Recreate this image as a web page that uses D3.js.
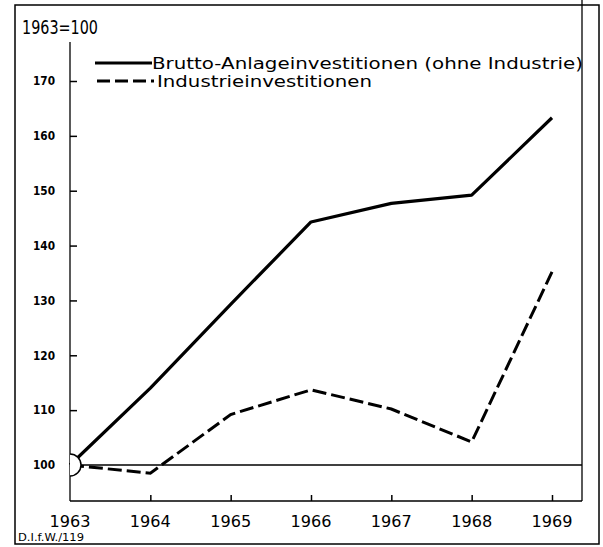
<!DOCTYPE html>
<html>
<head>
<meta charset="utf-8">
<script src="https://cdn.jsdelivr.net/npm/d3@7/dist/d3.min.js"></script>
<style>
  html, body { margin: 0; padding: 0; background: #fff; }
  svg { display: block; }
  text { font-family: "DejaVu Sans", sans-serif; fill: #000; }
</style>
</head>
<body>
<svg id="chart" width="603" height="547"></svg>
<script>
// ---- data ----
const years = [1963, 1964, 1965, 1966, 1967, 1968, 1969];
const brutto = [100, 114, 129.3, 144.3, 147.7, 149.2, 163.3];
const industrie = [100, 98.5, 109.2, 113.7, 110.2, 104.2, 135.2];
const yTicks = [100, 110, 120, 130, 140, 150, 160, 170];
const seriesNames = ["Brutto-Anlageinvestitionen (ohne Industrie)", "Industrieinvestitionen"];
const baseLabel = "1963=100";
const sourceLabel = "D.I.f.W./119";

const svg = d3.select("#chart");

const x = d3.scaleLinear().domain([1963, 1969]).range([70, 552]);
const y = d3.scaleLinear().domain([100, 170]).range([465, 81]);

const axisX0 = 70, axisY0 = 501, rightX = 582, axisTop = 42;

// outer frame
svg.append("rect").attr("x", 15).attr("y", 5).attr("width", 584).attr("height", 539)
  .attr("fill", "none").attr("stroke", "#000").attr("stroke-width", 1.5);

// inner right frame line
svg.append("line").attr("x1", rightX).attr("x2", rightX).attr("y1", 0).attr("y2", axisY0)
  .attr("stroke", "#000").attr("stroke-width", 1.3);

// y axis
const yAxis = d3.axisLeft(y).tickValues(yTicks).tickSizeInner(-7).tickSizeOuter(0).tickPadding(15);
const gy = svg.append("g").attr("transform", `translate(${axisX0},0)`).call(yAxis);
gy.select(".domain").remove();
gy.selectAll(".tick line").attr("stroke", "#000").attr("stroke-width", 1.5);
gy.selectAll(".tick text").attr("font-size", 12).attr("font-weight", "bold")
  .attr("font-family", "DejaVu Sans, sans-serif").attr("textLength", 22).attr("lengthAdjust", "spacingAndGlyphs");
svg.append("line").attr("x1", axisX0).attr("x2", axisX0).attr("y1", axisTop).attr("y2", axisY0)
  .attr("stroke", "#000").attr("stroke-width", 1.3);

// x axis
const xAxis = d3.axisBottom(x).tickValues(years.slice(1)).tickSizeInner(-6).tickSizeOuter(0).tickFormat(d3.format("d"));
const gx = svg.append("g").attr("transform", `translate(0,${axisY0})`).call(xAxis);
gx.select(".domain").remove();
gx.selectAll(".tick text").remove();
gx.selectAll(".tick line").attr("stroke", "#000").attr("stroke-width", 1.5);
svg.append("line").attr("x1", axisX0).attr("x2", rightX).attr("y1", axisY0).attr("y2", axisY0)
  .attr("stroke", "#000").attr("stroke-width", 1.3);
svg.append("g").selectAll("text").data(years).join("text")
  .attr("x", d => x(d)).attr("y", 527).attr("text-anchor", "middle")
  .attr("font-size", 16.5).attr("textLength", 41).attr("lengthAdjust", "spacingAndGlyphs")
  .text(d => d);

// baseline at 100
svg.append("line").attr("x1", axisX0).attr("x2", rightX).attr("y1", y(100)).attr("y2", y(100))
  .attr("stroke", "#000").attr("stroke-width", 1.3);

// lines
const line = d3.line().x((d, i) => x(years[i])).y(d => y(d));
svg.append("path").datum(brutto).attr("d", line)
  .attr("fill", "none").attr("stroke", "#000").attr("stroke-width", 3.2).attr("stroke-linejoin", "round");
svg.append("path").datum(industrie).attr("d", line)
  .attr("fill", "none").attr("stroke", "#000").attr("stroke-width", 3).attr("stroke-dasharray", "14,5");

// origin semicircle
const r = 11, cx = x(1963), cy = y(100);
svg.append("path")
  .attr("d", `M${cx},${cy - r} A${r},${r} 0 0 1 ${cx},${cy + r} Z`)
  .attr("fill", "#fff").attr("stroke", "none");
svg.append("path")
  .attr("d", `M${cx},${cy - r} A${r},${r} 0 0 1 ${cx},${cy + r}`)
  .attr("fill", "none").attr("stroke", "#000").attr("stroke-width", 1.5);

// title
svg.append("text").attr("x", 22).attr("y", 34).attr("font-size", 19)
  .attr("textLength", 76).attr("lengthAdjust", "spacingAndGlyphs").text(baseLabel);

// legend
svg.append("line").attr("x1", 95).attr("x2", 152).attr("y1", 63).attr("y2", 63)
  .attr("stroke", "#000").attr("stroke-width", 3.2);
svg.append("text").attr("x", 152).attr("y", 69).attr("font-size", 16.5)
  .attr("textLength", 431).attr("lengthAdjust", "spacingAndGlyphs").text(seriesNames[0]);
svg.append("line").attr("x1", 97).attr("x2", 154).attr("y1", 81).attr("y2", 81)
  .attr("stroke", "#000").attr("stroke-width", 3).attr("stroke-dasharray", "13,5");
svg.append("text").attr("x", 157).attr("y", 87).attr("font-size", 16.5)
  .attr("textLength", 215).attr("lengthAdjust", "spacingAndGlyphs").text(seriesNames[1]);

// source note
svg.append("text").attr("x", 18).attr("y", 541).attr("font-size", 11)
  .attr("textLength", 66).attr("lengthAdjust", "spacingAndGlyphs").text(sourceLabel);
</script>
</body>
</html>
